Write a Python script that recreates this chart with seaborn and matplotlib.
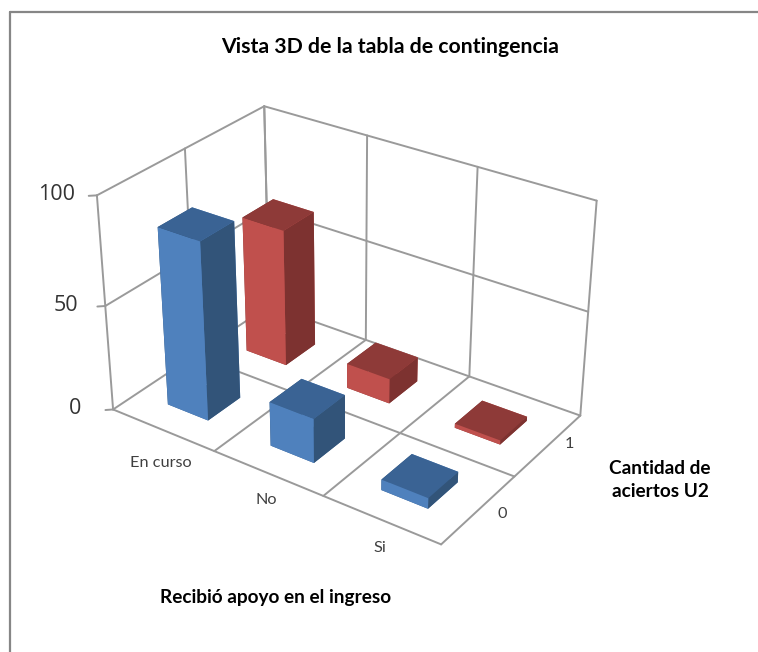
import numpy as np
import pandas as pd
import matplotlib
matplotlib.use('Agg')
import matplotlib.pyplot as plt
from matplotlib.lines import Line2D
import seaborn as sns

apoyo = ['En curso', 'No', 'Si']
aciertos = ['0', '1']
valores_0 = [84, 21, 5]
valores_1 = [66, 12, 2]
z_ticks = [0, 50, 100]

tabla = pd.DataFrame({'0': valores_0, '1': valores_1}, index=apoyo)

sns.set_theme(style='white')
plt.rcParams['font.family'] = ['Lato', 'DejaVu Sans']

W, H = 758, 652
fig = plt.figure(figsize=(W / 100, H / 100), dpi=100, facecolor='white')

GRID = '#9a9a9a'
FRAME = '#868686'
TXT = '#404040'
CARAS = {'0': ('#4f81bd', '#3a6394', '#325479'),
         '1': ('#c0504d', '#8e3a38', '#7d3230')}

s, tx, ty = 2844.96, 346.05, 308.86
ax = fig.add_axes([0, 0, 1, 1], projection='3d', computed_zorder=False)
vx0, vx1 = ax.viewLim.intervalx
vy0, vy1 = ax.viewLim.intervaly
ax.set_position([(tx + s * vx0) / W, (H - ty + s * vy0) / H,
                 s * (vx1 - vx0) / W, s * (vy1 - vy0) / H])
ax.set_facecolor('none')
nx, ny = len(apoyo), len(aciertos)
ax.set_xlim(0, nx, view_margin=0)
ax.set_ylim(0, ny, view_margin=0)
ax.set_zlim(0, 100, view_margin=0)
ax.view_init(elev=29.482, azim=-54.985)
ax.set_box_aspect((1, 0.6652, 0.6120))
ax.set_proj_type('persp', focal_length=0.6330)
ax.grid(False)
for a in (ax.xaxis, ax.yaxis, ax.zaxis):
    a.pane.set_facecolor('none')
    a.pane.set_edgecolor('none')
    a.line.set_color('none')

# gridlines on the floor and the two walls
kw = dict(color=GRID, lw=1.4, zorder=1, solid_capstyle='round')
for x in range(nx + 1):
    ax.plot([x, x], [0, ny], [0, 0], **kw)
    ax.plot([x, x], [ny, ny], [0, 100], **kw)
for y in range(ny + 1):
    ax.plot([0, nx], [y, y], [0, 0], **kw)
    ax.plot([0, 0], [y, y], [0, 100], **kw)
for z in z_ticks[1:]:
    ax.plot([0, nx], [ny, ny], [z, z], **kw)
    ax.plot([0, 0], [0, ny], [z, z], **kw)
# short outward tick marks on the value axis
for z in z_ticks:
    ax.plot([0, -0.043], [0, -0.04], [z, z], **kw)

# bars, back to front
w = 0.40
order = 10
for j in reversed(range(ny)):
    serie = aciertos[j]
    frente, arriba, lado = CARAS[serie]
    for i in range(nx):
        h = tabla[serie].iloc[i]
        ax.bar3d(i + .5 - w / 2, j + .5 - w / 2, 0, w, w, h, shade=False,
                 color=[arriba, arriba, frente, frente, lado, lado],
                 zorder=order, linewidth=0)
        order += 1

ax.set_xticks(np.arange(nx) + .587, apoyo)
ax.set_yticks(np.arange(ny) + .68, aciertos)
ax.set_zticks(z_ticks, [str(v) for v in z_ticks])
ax.zaxis.set_ticks_position('lower')
ax.tick_params(axis='x', labelsize=11.7, labelcolor=TXT, color='none', pad=5.7)
ax.tick_params(axis='y', labelsize=11.7, labelcolor=TXT, color='none', pad=-2.4)
ax.tick_params(axis='z', labelsize=15.5, labelcolor='#333333', color='none', pad=8)
for t in ax.get_zticklabels():
    t.set_fontfamily('Open Sans')
    t.set_verticalalignment('center')
for t in ax.get_xticklabels()[1:]:
    t.set_verticalalignment('center')
ax.get_yticklabels()[1].set_verticalalignment('center')

fig.suptitle('Vista 3D de la tabla de contingencia', x=390 / W, y=1 - 47 / H,
             va='center', ha='center', fontsize=15.3, fontweight='bold', color='black')
fig.text(276 / W, 1 - 597 / H, 'Recibió apoyo en el ingreso', ha='center', va='center',
         fontsize=13.7, fontweight='bold', color='black')
fig.text(660 / W, 1 - 480 / H, 'Cantidad de\naciertos U2', ha='center', va='center',
         fontsize=13.7, fontweight='bold', color='black', linespacing=1.42)

fig.add_artist(Line2D([10 / W, 10 / W], [0, 1 - 12 / H], color=FRAME, lw=1.6))
fig.add_artist(Line2D([10 / W, 1], [1 - 12 / H, 1 - 12 / H], color=FRAME, lw=1.6))
fig.savefig('out.png', dpi=100, facecolor='white')
